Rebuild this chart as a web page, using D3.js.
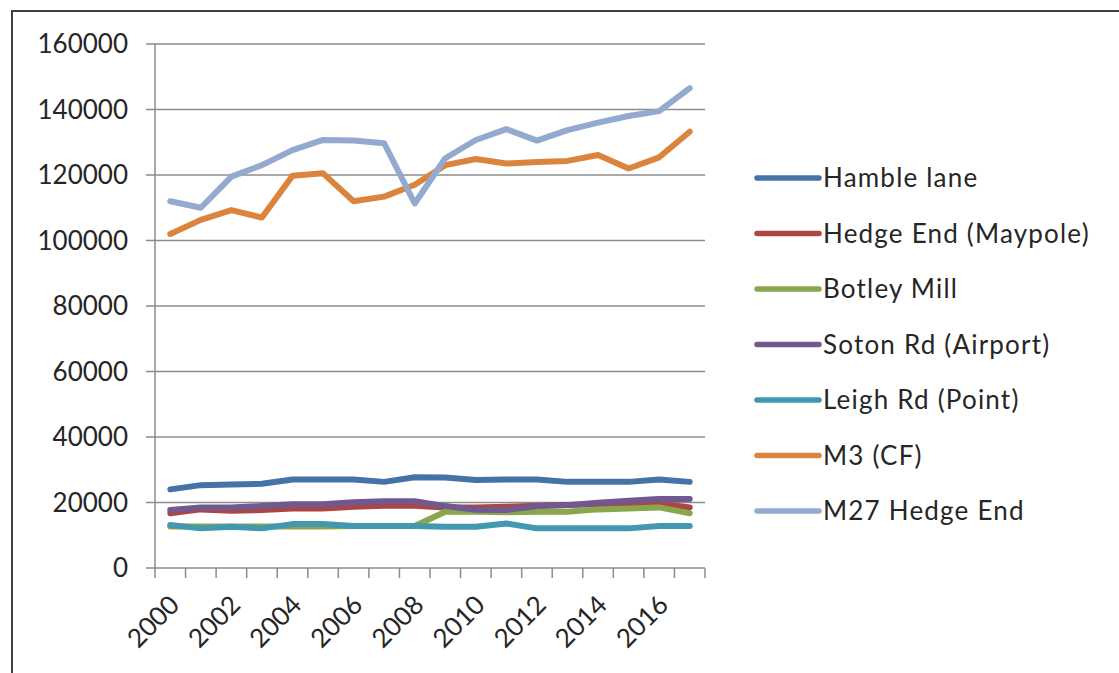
<!DOCTYPE html>
<html>
<head>
<meta charset="utf-8">
<script src="https://cdn.jsdelivr.net/npm/d3@7"></script>
<style>
  body { margin: 0; background: #fff; }
  svg text { font-family: Lato, "Open Sans", sans-serif; fill: #262626; }
</style>
</head>
<body>
<div id="chart"></div>
<script>
// ---- data ----
var years = d3.range(2000, 2018);
var yTicks = [0, 20000, 40000, 60000, 80000, 100000, 120000, 140000, 160000];
var xLabelYears = [2000, 2002, 2004, 2006, 2008, 2010, 2012, 2014, 2016];

var seriesNames = ["Hamble lane", "Hedge End (Maypole)", "Botley Mill", "Soton Rd (Airport)",
                   "Leigh Rd (Point)", "M3 (CF)", "M27 Hedge End"];
var seriesColors = ["#4572A7", "#AA4643", "#89A54E", "#71588F", "#4198AF", "#DB843D", "#93A9CF"];

var hambleLane = [24000, 25300, 25500, 25700, 27000, 27000, 27000, 26300, 27700,
                  27600, 26900, 27000, 27000, 26300, 26300, 26300, 27000, 26300];
var hedgeEnd   = [16700, 17900, 17500, 17700, 18200, 18200, 18700, 19000, 19000,
                  18500, 18500, 18700, 19000, 19200, 19500, 19900, 19700, 18500];
var botleyMill = [12700, 12700, 12700, 12700, 12700, 12700, 12800, 12800, 12800,
                  17200, 17200, 17000, 17200, 17200, 17900, 18200, 18500, 16700];
var sotonRd    = [17700, 18500, 18500, 18900, 19500, 19500, 20100, 20400, 20400,
                  18900, 17800, 17700, 18900, 19200, 19900, 20500, 21100, 21100];
var leighRd    = [13100, 12100, 12600, 12100, 13400, 13400, 12800, 12800, 12800,
                  12600, 12600, 13600, 12100, 12100, 12100, 12100, 12800, 12800];
var m3         = [102000, 106300, 109300, 107000, 119800, 120500, 112000, 113400, 117000,
                  123000, 124900, 123500, 124000, 124300, 126100, 122000, 125400, 133200];
var m27        = [112000, 110000, 119500, 123000, 127600, 130700, 130500, 129700, 111300,
                  125100, 130700, 134000, 130500, 133700, 136000, 138000, 139500, 146500];

var seriesValues = [hambleLane, hedgeEnd, botleyMill, sotonRd, leighRd, m3, m27];

// ---- layout ----
var width = 1119, height = 673;
var plotLeft = 155, plotRight = 705, plotTop = 44, plotBottom = 568;

var svg = d3.select("#chart").append("svg")
    .attr("width", width).attr("height", height);

// outer frame (runs off the right and bottom edges)
svg.append("rect")
    .attr("x", 12).attr("y", 11)
    .attr("width", 1200).attr("height", 700)
    .attr("fill", "none").attr("stroke", "#404040").attr("stroke-width", 2);

var x = d3.scaleBand().domain(years).range([plotLeft, plotRight]);
var y = d3.scaleLinear().domain([0, 160000]).range([plotBottom, plotTop]);

// gridlines
svg.append("g").selectAll("line")
    .data(yTicks).enter()
    .append("line")
    .attr("x1", plotLeft - 9).attr("x2", plotRight)
    .attr("y1", d => y(d)).attr("y2", d => y(d))
    .attr("stroke", "#8c8c8c").attr("stroke-width", 1.5);

// y axis line + labels
svg.append("line")
    .attr("x1", plotLeft).attr("x2", plotLeft)
    .attr("y1", plotTop).attr("y2", plotBottom)
    .attr("stroke", "#8c8c8c").attr("stroke-width", 1.5);

svg.append("g").selectAll("text")
    .data(yTicks).enter()
    .append("text")
    .attr("x", 128).attr("y", d => y(d))
    .attr("dy", "0.36em")
    .attr("text-anchor", "end")
    .style("font-size", "26px")
    .text(d => d);

// x axis ticks between categories
var boundaries = years.map(d => x(d)).concat([plotRight]);
svg.append("g").selectAll("line")
    .data(boundaries).enter()
    .append("line")
    .attr("x1", d => d).attr("x2", d => d)
    .attr("y1", plotBottom).attr("y2", plotBottom + 10)
    .attr("stroke", "#8c8c8c").attr("stroke-width", 1.5);

// rotated year labels
svg.append("g").selectAll("text")
    .data(xLabelYears).enter()
    .append("text")
    .attr("text-anchor", "end")
    .attr("dy", "0.36em")
    .attr("transform", d => {
        var cx = x(d) + x.bandwidth() / 2 + 4;
        return "translate(" + cx + "," + (plotBottom + 32) + ") rotate(-45)";
    })
    .style("font-size", "26px")
    .text(d => d);

// series lines
var line = d3.line()
    .x((d, i) => x(years[i]) + x.bandwidth() / 2)
    .y(d => y(d));

svg.append("g").selectAll("path")
    .data(seriesValues).enter()
    .append("path")
    .attr("d", d => line(d))
    .attr("fill", "none")
    .attr("stroke", (d, i) => seriesColors[i])
    .attr("stroke-width", 6)
    .attr("stroke-linejoin", "round")
    .attr("stroke-linecap", "round");

// legend
var legend = svg.append("g").selectAll("g")
    .data(seriesNames).enter()
    .append("g")
    .attr("transform", (d, i) => "translate(757," + (178 + i * 55.5) + ")");

legend.append("line")
    .attr("x1", 0).attr("x2", 62)
    .attr("stroke", (d, i) => seriesColors[i])
    .attr("stroke-width", 5.5)
    .attr("stroke-linecap", "round");

legend.append("text")
    .attr("x", 66).attr("dy", "0.36em")
    .style("font-size", "26px")
    .style("letter-spacing", "1.2px")
    .text(d => d);
</script>
</body>
</html>
